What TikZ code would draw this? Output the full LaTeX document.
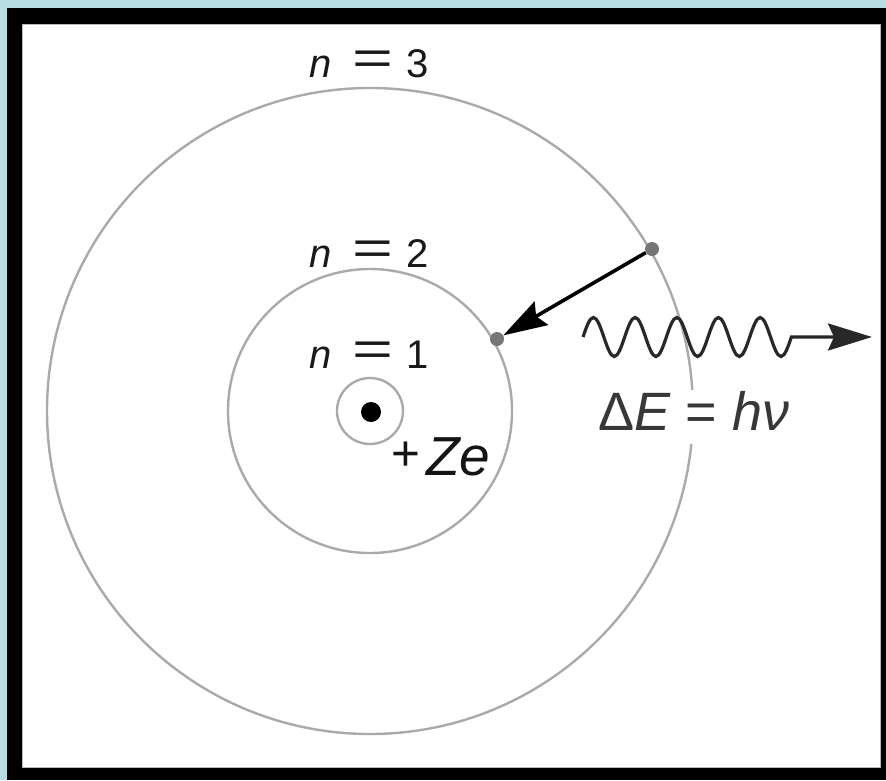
\documentclass[tikz,border=0pt]{standalone}
\usepackage{fontspec}
\setmainfont{Liberation Sans}
\usepackage{graphicx}
\usetikzlibrary{arrows.meta}
\definecolor{frameblue}{RGB}{185,222,226}
\definecolor{orbitgray}{RGB}{170,170,170}
\definecolor{electrongray}{RGB}{118,118,118}
\definecolor{wavecol}{RGB}{40,40,40}
\newcommand{\wideeq}{\raisebox{2.5pt}{\scalebox{1.75}[1.2]{=}}}
\begin{document}
\begin{tikzpicture}[x=1pt,y=-1pt,
  orbitline/.style={circle,draw=orbitgray,line width=2.4pt,inner sep=0pt},
  electron/.style={circle,fill=electrongray,minimum size=14pt,inner sep=0pt},
  nucleus/.style={circle,fill=black,minimum size=20pt,inner sep=0pt},
  nlabel/.style={anchor=base west,inner sep=0pt,text=black!90,font=\fontsize{40}{40}\selectfont},
  transition/.style={line width=3.6pt,draw=black,-{Stealth[length=44pt,width=27pt,inset=6pt]}},
  photon/.style={line width=3.2pt,draw=wavecol,-{Stealth[length=44pt,width=27pt,inset=6pt]}}]
\useasboundingbox (0,0) rectangle (886,780);
% frame
\fill[frameblue] (0,0) rectangle (886,780);
\fill[black] (7,8) rectangle (886,780);
\fill[white] (22,24) rectangle (881,768);
\draw[gray!55,line width=0.8pt] (22.4,24.4) rectangle (880.6,767.6);
% nucleus and orbits
\coordinate (c) at (370,411);
\node[orbitline,minimum size=646pt] (orb3) at (c) {};
\node[orbitline,minimum size=284pt] (orb2) at (c) {};
\node[orbitline,minimum size=66pt] (orb1) at (c) {};
\node[nucleus] (nuc) at (371,412) {};
% electrons
\node[electron] (e3) at (652,249) {};
\node[electron] (e2) at (497,339) {};
\draw[transition] (e3) -- (e2);
% photon wave
\coordinate (w0) at (583,337);
\coordinate (wend) at (872,337);
\draw[photon] (w0)
  sin ++(10.42,-19.5) cos ++(10.42,19.5) sin ++(10.42,19.5) cos ++(10.42,-19.5)
  sin ++(10.42,-19.5) cos ++(10.42,19.5) sin ++(10.42,19.5) cos ++(10.42,-19.5)
  sin ++(10.42,-19.5) cos ++(10.42,19.5) sin ++(10.42,19.5) cos ++(10.42,-19.5)
  sin ++(10.42,-19.5) cos ++(10.42,19.5) sin ++(10.42,19.5) cos ++(10.42,-19.5)
  sin ++(10.42,-19.5) cos ++(10.42,19.5) sin ++(10.42,19.5) cos ++(10.42,-19.5)
  -- (wend);
% labels
\node[nlabel] (l3) at (309,77) {\textit{n}\hspace{21pt}\wideeq\hspace{13pt}3};
\node[nlabel] (l2) at (309,267) {\textit{n}\hspace{21pt}\wideeq\hspace{13pt}2};
\node[nlabel] (l1) at (309,368) {\textit{n}\hspace{21pt}\wideeq\hspace{13pt}1};
\node[anchor=base west,inner sep=0pt,text=black!92,font=\fontsize{55}{55}\selectfont] (charge) at (391,475)
  {\raisebox{5pt}{\scalebox{0.9}{+}}\hspace{6pt}\textit{Ze}};
\node[anchor=base west,inner xsep=8pt,inner ysep=0pt,text height=40pt,text depth=14pt,fill=white,
  text=black!78,font=\fontsize{54}{54}\selectfont] (energy) at (590,430)
  {Δ\textit{E}\hspace{15pt}=\hspace{15pt}\textit{hν}};
\end{tikzpicture}
\end{document}
